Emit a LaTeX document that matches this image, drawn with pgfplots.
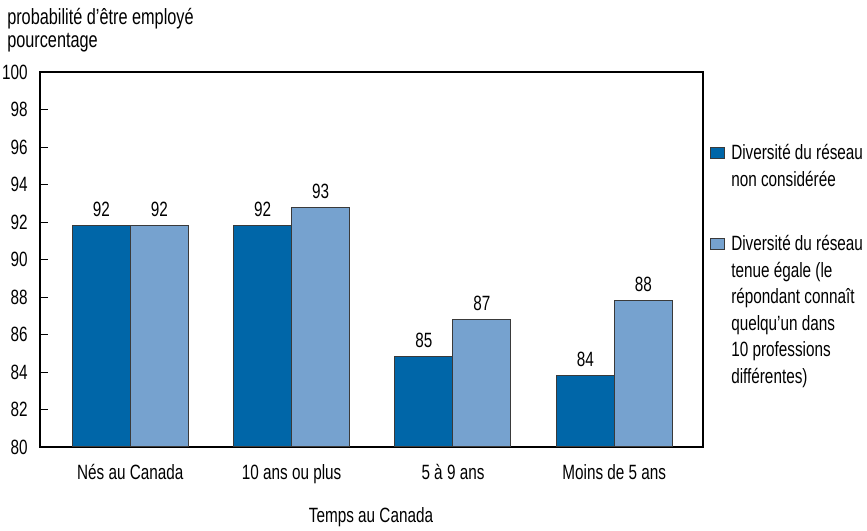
\documentclass[border=0pt]{standalone}
\usepackage{pgfplots}
\pgfplotsset{compat=1.18}
\usepackage{fontspec}
\setmainfont{Liberation Sans}[FakeStretch=0.74]
\definecolor{darkbar}{HTML}{0066A8}
\definecolor{lightbar}{HTML}{76A2CF}
\definecolor{bordergray}{HTML}{3A3A3A}
\begin{document}
\fontsize{15.5}{18}\selectfont
\begin{tikzpicture}[x=0.75pt,y=0.75pt,font=\fontsize{15.5}{18}\selectfont]
\useasboundingbox (0,0) rectangle (867,531);
\begin{axis}[
  at={(30pt,63pt)}, anchor=south west,
  width=497.25pt, height=281.25pt, scale only axis,
  ymin=80, ymax=100, ytick={80,82,...,100},
  xmin=-0.56, xmax=3.55,
  xtick={0,1,2,3},
  xticklabels={Nés au Canada,10 ans ou plus,5 à 9 ans,Moins de 5 ans},
  ybar=0pt, bar width=43.5pt,
  ytick pos=left,
  tick align=inside,
  major tick length=6pt,
  xtick style={draw=none},
  ytick style={black, line width=0.6pt},
  axis line style={line width=0.8pt},
  /pgf/number format/assume math mode=true,
  yticklabel style={anchor=east, inner sep=0pt, xshift=-9pt},
  xticklabel style={anchor=base, inner sep=0pt, yshift=-24.75pt},
  nodes near coords={\pgfmathprintnumber[fixed,precision=0]{\pgfplotspointmeta}},
  every node near coord/.append style={anchor=base, inner sep=0pt, yshift=6.75pt, black},
  clip=false,
]
\addplot[fill=darkbar, draw=bordergray, line width=0.75pt] coordinates {(0,91.8) (1,91.8) (2,84.8) (3,83.8)};
\addplot[fill=lightbar, draw=bordergray, line width=0.75pt] coordinates {(0,91.8) (1,92.75) (2,86.8) (3,87.8)};
\end{axis}
% titles
\node[anchor=base west, inner sep=0pt, font=\fontsize{16.5}{18}\selectfont] at (7,506) {probabilité d’être employé};
\node[anchor=base west, inner sep=0pt, font=\fontsize{16.5}{18}\selectfont] at (7,483) {pourcentage};
\node[anchor=base, inner sep=0pt] at (371,8) {Temps au Canada};
% legend
\draw[fill=darkbar, draw=bordergray, line width=0.75pt] (710,372) rectangle (724,383);
\node[anchor=base west, inner sep=0pt] at (731,371) {Diversité du réseau};
\node[anchor=base west, inner sep=0pt] at (731,344) {non considérée};
\draw[fill=lightbar, draw=bordergray, line width=0.75pt] (710,281) rectangle (724,292);
\node[anchor=base west, inner sep=0pt] at (731,280) {Diversité du réseau};
\node[anchor=base west, inner sep=0pt] at (731,253.5) {tenue égale (le};
\node[anchor=base west, inner sep=0pt] at (731,227) {répondant connaît};
\node[anchor=base west, inner sep=0pt] at (731,200.5) {quelqu’un dans};
\node[anchor=base west, inner sep=0pt] at (731,174) {10 professions};
\node[anchor=base west, inner sep=0pt] at (731,147.5) {différentes)};
\end{tikzpicture}
\end{document}
